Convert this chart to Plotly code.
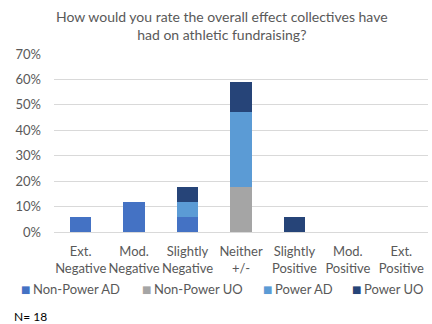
import plotly.graph_objects as go

# Survey responses (N = 18, 17 answered), shares in percent
categories = ["Ext.<br>Negative", "Mod.<br>Negative", "Slightly<br>Negative", "Neither<br>+/-",
              "Slightly<br>Positive", "Mod.<br>Positive", "Ext.<br>Positive"]
non_power_ad = [5.88, 11.76, 5.88, 0, 0, 0, 0]
non_power_uo = [0, 0, 0, 17.65, 0, 0, 0]
power_ad = [0, 0, 5.88, 29.41, 0, 0, 0]
power_uo = [0, 0, 5.88, 11.76, 5.88, 0, 0]
y_ticks = [0, 10, 20, 30, 40, 50, 60, 70]

series_names = ["Non-Power AD", "Non-Power UO", "Power AD", "Power UO"]
series_values = [non_power_ad, non_power_uo, power_ad, power_uo]
series_colors = ["#4472C4", "#A5A5A5", "#5B9BD5", "#264478"]

FONT = "Lato, 'Open Sans', sans-serif"
GREY = "#595959"

# plot area geometry (pixels) used to place the legend row and the note
W, H = 432, 324
ML, MR, MT, MB = 54, 4, 54, 92
PW, PH = W - ML - MR, H - MT - MB


def px_x(x):
    return (x - ML) / PW


def px_y(y):
    return (H - MB - y) / PH


fig = go.Figure()
for name, vals, color in zip(series_names, series_values, series_colors):
    fig.add_trace(go.Bar(
        x=categories, y=vals, name=name,
        marker=dict(color=color, line=dict(width=0)),
        showlegend=False,
    ))

annotations = [
    dict(
        text="How would you rate the overall effect collectives have<br>had on athletic fundraising?",
        xref="paper", yref="paper", x=0.449, y=1.27,
        xanchor="center", yanchor="top", showarrow=False,
        font=dict(family=FONT, size=14, color=GREY),
    ),
    dict(
        text="N= 18", xref="paper", yref="paper",
        x=px_x(12), y=px_y(316), xanchor="left", yanchor="middle",
        showarrow=False, font=dict(family=FONT, size=12, color="#000000"),
    ),
]

# legend row: colored square followed by the series name
legend_square_x = [21, 142, 263, 352]
legend_y = 289
for name, color, sx in zip(series_names, series_colors, legend_square_x):
    annotations.append(dict(
        text="■", xref="paper", yref="paper", x=px_x(sx - 2), y=px_y(legend_y),
        xanchor="left", yanchor="middle", showarrow=False,
        font=dict(family="DejaVu Sans", size=10, color=color),
    ))
    annotations.append(dict(
        text=name, xref="paper", yref="paper", x=px_x(sx + 10), y=px_y(legend_y),
        xanchor="left", yanchor="middle", showarrow=False,
        font=dict(family=FONT, size=13, color=GREY),
    ))

fig.update_layout(
    barmode="stack",
    bargap=0.6,
    width=W, height=H,
    margin=dict(l=ML, r=MR, t=MT, b=MB, autoexpand=False),
    paper_bgcolor="white", plot_bgcolor="white",
    font=dict(family=FONT, color=GREY, size=13),
    showlegend=False,
    xaxis=dict(showgrid=False, showline=False, ticks="", automargin=False,
               ticklabelstandoff=10, tickfont=dict(size=13, color=GREY)),
    yaxis=dict(
        range=[0, 70], tickvals=y_ticks, ticktext=[f"{v}%" for v in y_ticks],
        showgrid=True, gridcolor="#D9D9D9", gridwidth=1, automargin=False,
        zeroline=True, zerolinecolor="#D9D9D9", zerolinewidth=1,
        tickfont=dict(size=13, color=GREY), ticks="", ticklen=0,
        ticklabelstandoff=12,
    ),
    annotations=annotations,
)

fig.write_html("out.html")
